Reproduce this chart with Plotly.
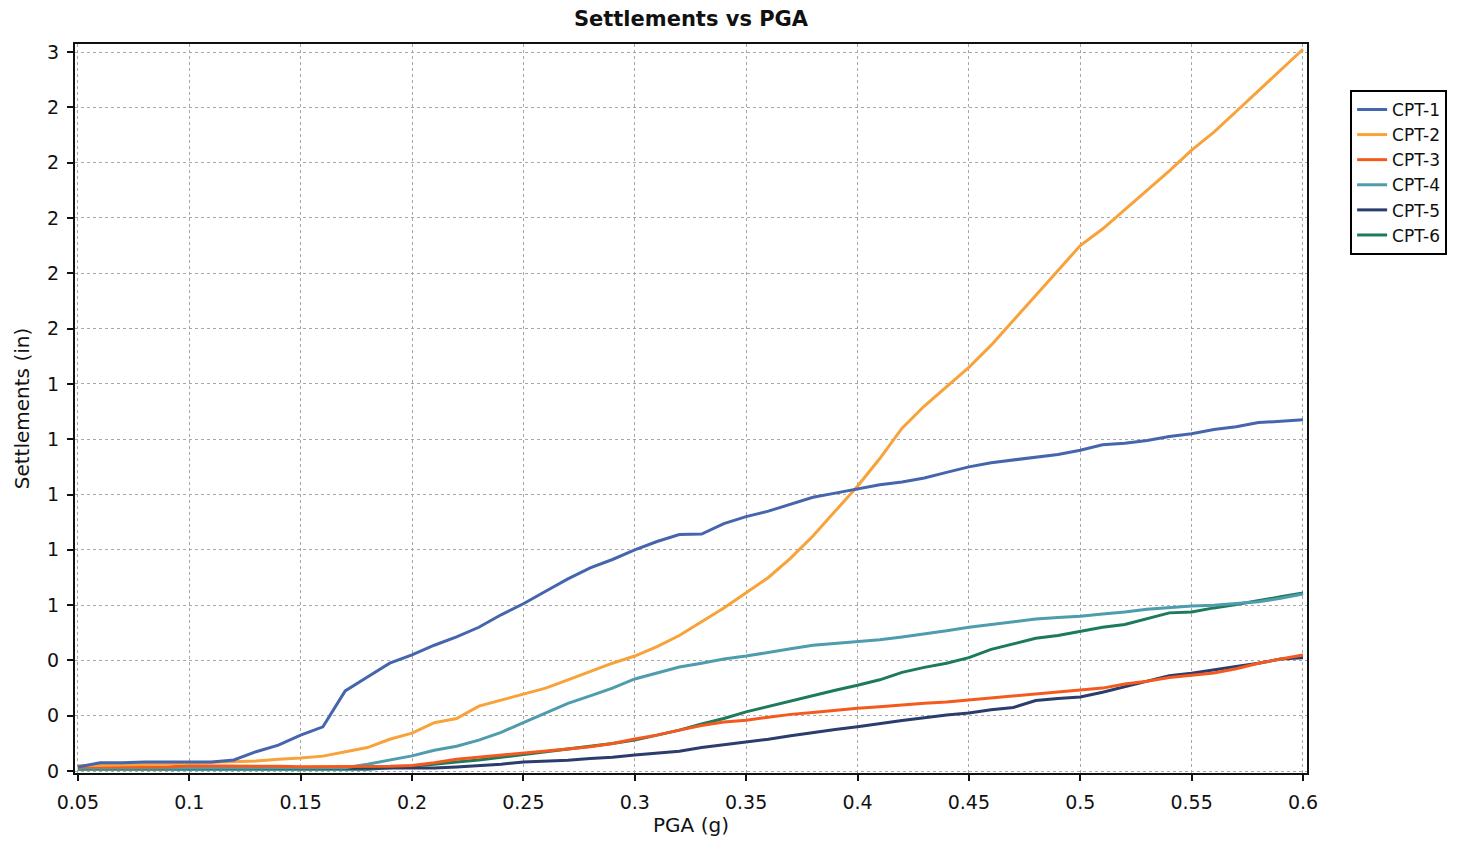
import plotly.graph_objects as go

# PGA levels (g) at which settlements were evaluated
pga = [0.05, 0.06, 0.07, 0.08, 0.09, 0.10, 0.11, 0.12, 0.13, 0.14,
       0.15, 0.16, 0.17, 0.18, 0.19, 0.20, 0.21, 0.22, 0.23, 0.24,
       0.25, 0.26, 0.27, 0.28, 0.29, 0.30, 0.31, 0.32, 0.33, 0.34,
       0.35, 0.36, 0.37, 0.38, 0.39, 0.40, 0.41, 0.42, 0.43, 0.44,
       0.45, 0.46, 0.47, 0.48, 0.49, 0.50, 0.51, 0.52, 0.53, 0.54,
       0.55, 0.56, 0.57, 0.58, 0.59, 0.60]

# Settlements (in) per CPT sounding
cpt1 = [0.015, 0.03, 0.03, 0.033, 0.033, 0.033, 0.033, 0.04, 0.07, 0.094,
        0.13, 0.16, 0.29, 0.34, 0.39, 0.42, 0.455, 0.485, 0.52, 0.565,
        0.605, 0.65, 0.695, 0.735, 0.765, 0.80, 0.83, 0.855, 0.857, 0.895,
        0.92, 0.94, 0.965, 0.99, 1.005, 1.02, 1.035, 1.045, 1.06, 1.08,
        1.10, 1.115, 1.125, 1.135, 1.145, 1.16, 1.18, 1.185, 1.195, 1.21,
        1.22, 1.235, 1.245, 1.26, 1.265, 1.27]
cpt2 = [0.019, 0.02, 0.022, 0.024, 0.026, 0.028, 0.03, 0.032, 0.036, 0.043,
        0.047, 0.054, 0.07, 0.085, 0.115, 0.137, 0.175, 0.19, 0.235, 0.257,
        0.28, 0.30, 0.33, 0.36, 0.39, 0.416, 0.45, 0.49, 0.54, 0.59,
        0.645, 0.70, 0.77, 0.85, 0.94, 1.03, 1.13, 1.24, 1.32, 1.39,
        1.46, 1.54, 1.63, 1.72, 1.81, 1.90, 1.96, 2.03, 2.10, 2.17,
        2.245, 2.31, 2.385, 2.46, 2.535, 2.61]
cpt3 = [0.015, 0.015, 0.015, 0.015, 0.015, 0.019, 0.019, 0.019, 0.018, 0.017,
        0.016, 0.016, 0.016, 0.016, 0.017, 0.02, 0.03, 0.043, 0.05, 0.058,
        0.065, 0.072, 0.08, 0.088, 0.10, 0.116, 0.13, 0.148, 0.165, 0.177,
        0.184, 0.195, 0.205, 0.212, 0.22, 0.227, 0.233, 0.24, 0.245, 0.25,
        0.257, 0.265, 0.272, 0.28, 0.286, 0.293, 0.30, 0.315, 0.325, 0.338,
        0.347, 0.355, 0.37, 0.39, 0.405, 0.42]
cpt4 = [0.01, 0.01, 0.01, 0.01, 0.01, 0.01, 0.01, 0.01, 0.01, 0.01,
        0.01, 0.01, 0.012, 0.025, 0.04, 0.055, 0.075, 0.09, 0.112, 0.14,
        0.175, 0.21, 0.245, 0.272, 0.30, 0.333, 0.355, 0.376, 0.39, 0.405,
        0.416, 0.43, 0.442, 0.455, 0.462, 0.467, 0.475, 0.485, 0.495, 0.507,
        0.52, 0.53, 0.54, 0.55, 0.555, 0.56, 0.568, 0.575, 0.585, 0.592,
        0.597, 0.60, 0.605, 0.612, 0.625, 0.64]
cpt5 = [0.011, 0.011, 0.011, 0.011, 0.011, 0.011, 0.011, 0.011, 0.011, 0.011,
        0.011, 0.011, 0.011, 0.011, 0.011, 0.011, 0.011, 0.015, 0.02, 0.025,
        0.033, 0.036, 0.039, 0.045, 0.05, 0.058, 0.065, 0.072, 0.085, 0.095,
        0.105, 0.115, 0.128, 0.14, 0.15, 0.16, 0.172, 0.183, 0.193, 0.203,
        0.21, 0.222, 0.23, 0.255, 0.262, 0.268, 0.285, 0.305, 0.325, 0.345,
        0.354, 0.365, 0.378, 0.39, 0.405, 0.41]
cpt6 = [0.007, 0.007, 0.007, 0.007, 0.007, 0.007, 0.007, 0.007, 0.007, 0.007,
        0.007, 0.007, 0.007, 0.007, 0.012, 0.018, 0.025, 0.033, 0.04, 0.05,
        0.06, 0.07, 0.078, 0.088, 0.10, 0.112, 0.13, 0.148, 0.17, 0.19,
        0.214, 0.234, 0.254, 0.274, 0.292, 0.31, 0.33, 0.357, 0.375, 0.39,
        0.41, 0.44, 0.46, 0.48, 0.49, 0.506, 0.52, 0.53, 0.55, 0.572,
        0.575, 0.59, 0.602, 0.615, 0.63, 0.644]

series_names = ["CPT-1", "CPT-2", "CPT-3", "CPT-4", "CPT-5", "CPT-6"]
series_values = [cpt1, cpt2, cpt3, cpt4, cpt5, cpt6]
series_colors = ["#4565ad", "#f8a23a", "#f45a1e", "#4e9cad", "#2b3d6c", "#1d7a5b"]

# Axis ticks
x_ticks = [0.05, 0.10, 0.15, 0.20, 0.25, 0.30, 0.35, 0.40, 0.45, 0.50, 0.55, 0.60]
x_tick_labels = ["0.05", "0.1", "0.15", "0.2", "0.25", "0.3", "0.35", "0.4",
                 "0.45", "0.5", "0.55", "0.6"]
y_ticks = [0.0, 0.2, 0.4, 0.6, 0.8, 1.0, 1.2, 1.4, 1.6, 1.8, 2.0, 2.2, 2.4, 2.6]
y_tick_labels = [f"{v:.0f}" for v in y_ticks]

FONT = "Tahoma, DejaVu Sans, Verdana, sans-serif"

fig = go.Figure()
# draw in reverse so CPT-1 sits on top, legend keeps CPT-1..6 order
for name, vals, col in reversed(list(zip(series_names, series_values, series_colors))):
    fig.add_trace(go.Scatter(
        x=pga, y=vals, name=name, mode="lines",
        line=dict(color=col, width=3),
    ))

fig.update_layout(
    width=1458, height=849,
    paper_bgcolor="white", plot_bgcolor="white",
    margin=dict(l=75, r=151, t=44, b=76, autoexpand=False),
    font=dict(family=FONT, color="#111111", size=19),
    title=dict(text="<b>Settlements vs PGA</b>", x=(75 + 1307) / 2 / 1458, xanchor="center",
               y=1 - 19 / 849, yanchor="middle", font=dict(size=21, family=FONT)),
    showlegend=True,
    legend=dict(
        x=1.035, y=0.937, xanchor="left", yanchor="top",
        bgcolor="white", bordercolor="black", borderwidth=2,
        font=dict(size=17, family=FONT), traceorder="reversed",
        tracegroupgap=0,
    ),
)

fig.update_xaxes(
    range=[0.0487, 0.6018],
    tickvals=x_ticks, ticktext=x_tick_labels,
    ticks="outside", ticklen=6, tickwidth=2, tickcolor="#111111",
    ticklabelstandoff=5,
    showline=True, linecolor="#111111", linewidth=2, mirror=True,
    showgrid=True, gridcolor="#a8a8a8", gridwidth=1, griddash="dot",
    zeroline=False,
    title=dict(text="PGA (g)", standoff=6, font=dict(size=20)),
    tickfont=dict(size=19),
)
fig.update_yaxes(
    range=[-0.007, 2.629],
    tickvals=y_ticks, ticktext=y_tick_labels,
    ticks="outside", ticklen=6, tickwidth=2, tickcolor="#111111",
    ticklabelstandoff=4,
    showline=True, linecolor="#111111", linewidth=2, mirror=True,
    showgrid=True, gridcolor="#a8a8a8", gridwidth=1, griddash="dot",
    zeroline=False,
    title=dict(text="Settlements (in)", standoff=12, font=dict(size=20)),
    tickfont=dict(size=19),
)

fig.write_html("out.html")
